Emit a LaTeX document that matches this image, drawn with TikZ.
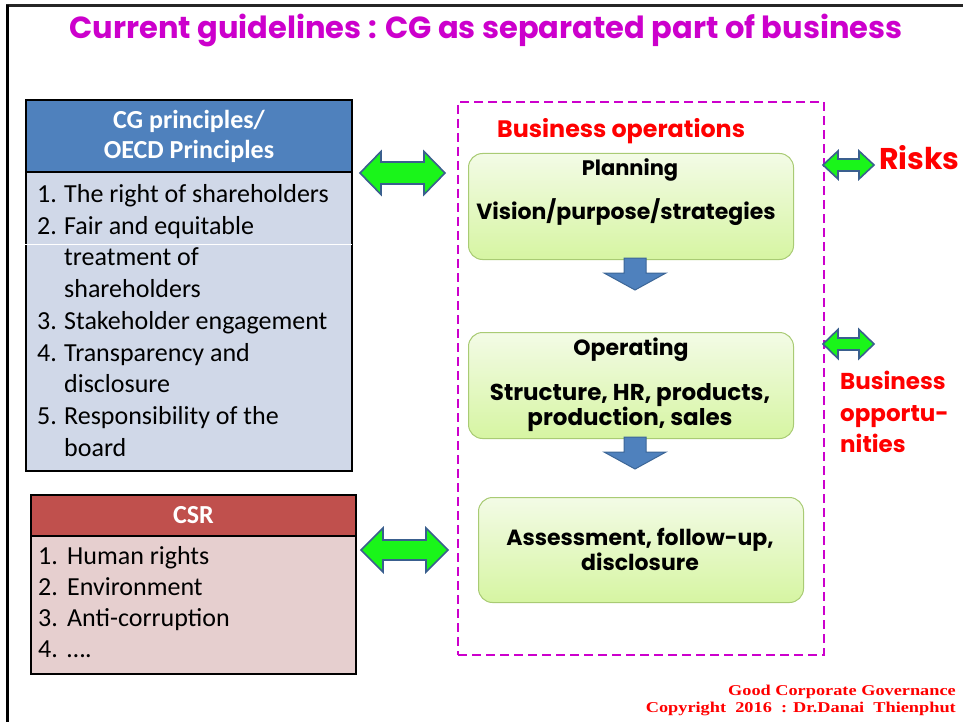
\documentclass[tikz,border=0pt]{standalone}
\usepackage{fontspec}
\setmainfont{Carlito}
\newfontfamily\comic{Poppins}
\newfontfamily\footfont{Liberation Serif}[FakeStretch=1.22]
\usetikzlibrary{calc}
\definecolor{titlemag}{HTML}{CC00CC}
\definecolor{hdrblue}{HTML}{4F81BD}
\definecolor{bodyblue}{HTML}{D0D8E8}
\definecolor{hdrred}{HTML}{C0504D}
\definecolor{bodyred}{HTML}{E6CFCF}
\definecolor{gtop}{HTML}{F3FBE6}
\definecolor{gbot}{HTML}{D6F5A2}
\definecolor{gborder}{HTML}{A9CB74}
\definecolor{arrgreen}{HTML}{1AF51A}
\definecolor{arrblue}{HTML}{3A5F8E}
\definecolor{downblue}{HTML}{4F81BD}
\definecolor{downborder}{HTML}{3C6697}
\tikzset{
  hdr/.style={draw=black, line width=2pt, inner sep=0pt, text=white, align=center,
    font=\bfseries\fontsize{26}{30}\selectfont},
  bodybox/.style={draw=black, line width=2pt, inner sep=0pt},
  gbox/.style={draw=gborder, line width=1pt, rounded corners=14pt, top color=gtop, bottom color=gbot, inner sep=0pt},
  gtext/.style={font=\comic\bfseries\fontsize{22}{25}\selectfont, inner sep=0pt, align=center},
  redtext/.style={text=red, font=\comic\bfseries, inner sep=0pt},
  dblarr/.style={draw=arrblue, line width=1.6pt, fill=arrgreen, line join=miter},
  downarr/.style={draw=downborder, line width=1pt, fill=downblue},
  listtxt/.style={anchor=north west, inner sep=0pt, align=left, font=\fontsize{26}{31.75}\selectfont},
}
% left x, right x, centre y, half head height, half shaft height, head length
\newcommand\mydblarrow[6]{%
  \draw[dblarr] ({#1},{#3}) -- ({#1+#6},{#3-#4}) -- ({#1+#6},{#3-#5}) -- ({#2-#6},{#3-#5})
    -- ({#2-#6},{#3-#4}) -- ({#2},{#3}) -- ({#2-#6},{#3+#4}) -- ({#2-#6},{#3+#5})
    -- ({#1+#6},{#3+#5}) -- ({#1+#6},{#3+#4}) -- cycle;}
% centre x, shaft top y, head base y, tip y
\newcommand\mydownarrow[4]{%
  \draw[downarr] ({#1-11},{#2}) -- ({#1+11},{#2}) -- ({#1+11},{#3}) -- ({#1+31},{#3})
    -- ({#1},{#4}) -- ({#1-31},{#3}) -- ({#1-11},{#3}) -- cycle;}
\begin{document}
\begin{tikzpicture}[x=1pt,y=-1pt]
\useasboundingbox (0,0) rectangle (963,722);
\fill[white] (0,0) rectangle (963,722);
% frame
\draw[line width=3pt, black!85] (6,6) -- (963,6);
\draw[line width=3pt, black] (7,5) -- (7,722);
% title
\node[text=titlemag, font=\comic\bfseries\fontsize{30.5}{34}\selectfont, inner sep=0pt, anchor=base] (title) at (486,39) {Current guidelines : CG as separated part of business};

% CG box
\node[hdr, fill=hdrblue, minimum width=326, minimum height=72, anchor=north west] (cgh) at (25,99) {CG principles/\\OECD Principles};
\node[bodybox, fill=bodyblue, minimum width=326, minimum height=299, anchor=north west] (cgb) at (25,171) {};
\draw[white, line width=1pt] (24,244) -- (352,244);
\node[listtxt] (cglist) at (37,180) {\begin{tabular}{@{}p{27pt}@{}l@{}}
1. & The right of shareholders\\
2. & Fair and equitable\\
 & treatment of\\
 & shareholders\\
3. & Stakeholder engagement\\
4. & Transparency and\\
 & disclosure\\
5. & Responsibility of the\\
 & board
\end{tabular}};

% CSR box
\node[hdr, fill=hdrred, minimum width=325, minimum height=41, anchor=north west] (csrh) at (30,494) {CSR};
\node[bodybox, fill=bodyred, minimum width=325, minimum height=138, anchor=north west] (csrb) at (30,535) {};
\node[listtxt, font=\fontsize{26}{31}\selectfont] (csrlist) at (38,543) {\begin{tabular}{@{}p{29pt}@{}l@{}}
1. & Human rights\\
2. & Environment\\
3. & Anti-corruption\\
4. & ….
\end{tabular}};

% business operations frame
\node[draw=titlemag, line width=2pt, dash pattern=on 9pt off 5pt, minimum width=366, minimum height=553, anchor=north west, inner sep=0pt] (ops) at (457,101) {};
\node[redtext, font=\comic\bfseries\fontsize{23.8}{26}\selectfont, anchor=west] (opstitle) at (497,131) {Business operations};

% green boxes
\node[gbox, minimum width=325, minimum height=106, anchor=north west] (plan) at (468,153) {};
\node[gtext, font=\comic\bfseries\fontsize{21}{25}\selectfont] (plan1) at (630,170) {Planning};
\node[gtext] (plan2) at (626,212) {Vision/purpose/strategies};

\node[gbox, minimum width=325, minimum height=106, anchor=north west] (oper) at (468,332) {};
\node[gtext] (oper1) at (631,350) {Operating};
\node[gtext, font=\comic\bfseries\fontsize{23}{25}\selectfont] (oper2) at (630,408) {Structure, HR, products,\\production, sales};

\node[gbox, minimum width=325, minimum height=105, anchor=north west] (assess) at (478,497) {};
\node[gtext] (assess1) at (640,549) {Assessment, follow-up,\\disclosure};

% down arrows
\mydownarrow{635}{258}{273}{290}
\mydownarrow{635}{437}{452}{469}

% double arrows
\mydblarrow{360}{445}{173}{21.5}{11}{21}
\mydblarrow{361}{448}{550}{22}{10}{22}
\mydblarrow{823}{874}{165}{14}{6}{15}
\mydblarrow{823}{874}{344}{14.5}{6}{15}

% side labels
\node[redtext, font=\comic\bfseries\fontsize{30}{30}\selectfont, anchor=west] (risks) at (879,158) {Risks};
\node[redtext, font=\comic\bfseries\fontsize{23}{31.5}\selectfont, anchor=north west, align=left] (opp) at (840,371) {Business\\opportu-\\nities};

% footer
\node[text=red, font=\footfont\bfseries\fontsize{15}{17}\selectfont, anchor=north east, align=right, inner sep=0pt] (foot) at (956,685) {Good Corporate Governance\\Copyright\ \ 2016\ \ : Dr.Danai\ \ Thienphut};
\end{tikzpicture}
\end{document}
